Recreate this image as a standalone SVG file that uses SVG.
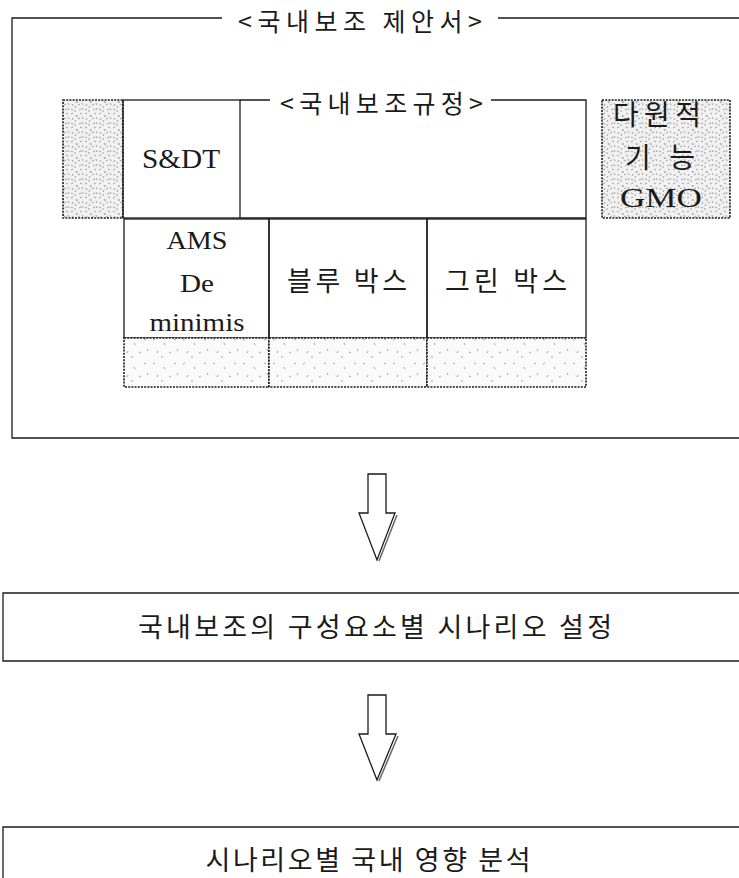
<svg xmlns="http://www.w3.org/2000/svg" width="739" height="878" viewBox="0 0 739 878">
<style>
.ln{fill:none;stroke:#1a1a1a;stroke-width:1.3}
.dot{stroke:#1a1a1a;stroke-width:1.6;stroke-dasharray:2 1.2}
.ko{font-family:"Noto Sans CJK KR","Noto Sans",sans-serif;fill:#1a1a1a;text-anchor:middle}
.en{font-family:"Liberation Serif","DejaVu Serif",serif;fill:#1a1a1a;text-anchor:middle}
</style>
<defs>
<pattern id="dense" width="14" height="14" patternUnits="userSpaceOnUse">
<rect width="14" height="14" fill="#f1f1f1"/>
<g stroke="#8a8a8a" stroke-width="0.8" fill="none">
<path d="M1 2l2 -1M6 3l1 2M10 1l2 1M3 6l-1 2M8 7l2 -1M12 5l1 2M1 11l2 1M5 10l1 -2M9 12l2 -1M12 10l1 2M4 13l2 0M7 4l1 0"/>
</g>
</pattern>
<pattern id="sparse" width="30" height="24" patternUnits="userSpaceOnUse">
<rect width="30" height="24" fill="#fafafa"/>
<g stroke="#8a8a8a" stroke-width="0.8" fill="none">
<path d="M3 4l2 -1M14 7l1 2M24 3l2 1M8 15l-1 2M19 17l2 -1M27 13l1 2M11 21l2 0"/>
</g>
</pattern>
</defs>
<rect width="739" height="878" fill="#fff"/>

<g id="proposal">
<path class="ln" d="M222 18H12V438H739M498 18H739"/>
<text class="ko" x="360" y="31" font-size="25" textLength="244" lengthAdjust="spacing">&lt;국내보조 제안서&gt;</text>
</g>

<g id="left-shaded">
<rect class="dot" x="63" y="100" width="60" height="118" fill="url(#dense)"/>
</g>

<g id="sdt">
<rect class="ln" x="123" y="100" width="117" height="118"/>
<text class="en" x="181" y="168" font-size="27" textLength="78" lengthAdjust="spacingAndGlyphs">S&amp;DT</text>
</g>

<g id="rules">
<path class="ln" d="M240 100H270M491 100H586V218H240"/>
<text class="ko" x="381.5" y="113" font-size="25" textLength="203" lengthAdjust="spacing">&lt;국내보조규정&gt;</text>
</g>

<g id="multifunc">
<rect class="dot" x="602" y="100" width="128" height="118" fill="url(#dense)"/>
<text class="ko" x="657" y="125" font-size="28" textLength="88" lengthAdjust="spacing">다원적</text>
<text class="ko" x="660" y="168" font-size="28" textLength="70" lengthAdjust="spacing">기능</text>
<text class="en" x="661" y="207" font-size="27" textLength="82" lengthAdjust="spacingAndGlyphs">GMO</text>
</g>

<g id="ams">
<rect class="ln" x="124" y="219" width="145" height="119"/>
<text class="en" x="197" y="249" font-size="26" textLength="61" lengthAdjust="spacingAndGlyphs">AMS</text>
<text class="en" x="197" y="292" font-size="26" textLength="34" lengthAdjust="spacingAndGlyphs">De</text>
<text class="en" x="197" y="331" font-size="26" textLength="95" lengthAdjust="spacingAndGlyphs">minimis</text>
</g>

<g id="blue">
<rect class="ln" x="269" y="219" width="158" height="119"/>
<text class="ko" x="347" y="291" font-size="27" textLength="120" lengthAdjust="spacing">블루 박스</text>
</g>

<g id="green">
<rect class="ln" x="427" y="219" width="159" height="119"/>
<text class="ko" x="506" y="291" font-size="27" textLength="122" lengthAdjust="spacing">그린 박스</text>
</g>

<g id="shaded-row">
<rect class="dot" x="124" y="338" width="145" height="49" fill="url(#sparse)"/>
<rect class="dot" x="269" y="338" width="158" height="49" fill="url(#sparse)"/>
<rect class="dot" x="427" y="338" width="159" height="49" fill="url(#sparse)"/>
</g>

<g id="connectors">
<path class="ln" fill="#fff" d="M368 474H386V513H395L377 560L359 513H368Z"/>
<path d="M397 515L379 561" stroke="#666" stroke-width="1.5" fill="none"/>
<path class="ln" fill="#fff" d="M368 695H386V734H396L377 780L359 734H368Z"/>
<path d="M398 736L379 781" stroke="#666" stroke-width="1.5" fill="none"/>
</g>

<g id="scenario">
<path class="ln" d="M739 593H3V661H739"/>
<text class="ko" x="375" y="637" font-size="27" textLength="474" lengthAdjust="spacing">국내보조의 구성요소별 시나리오 설정</text>
</g>

<g id="analysis">
<path class="ln" d="M739 827H3V878"/>
<text class="ko" x="368" y="870" font-size="27" textLength="325" lengthAdjust="spacing">시나리오별 국내 영향 분석</text>
</g>
</svg>
